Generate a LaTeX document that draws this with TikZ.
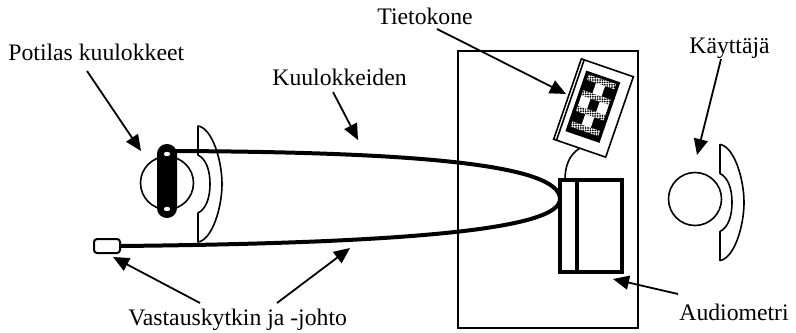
\documentclass[tikz,border=0pt]{standalone}
\usepackage{fontspec}
\setmainfont{Liberation Serif}
\usetikzlibrary{arrows.meta,patterns.meta}

\begin{document}
\begin{tikzpicture}[x=0.5pt,y=-0.5pt,
  thin line/.style={line width=0.8pt},
  frame line/.style={line width=1pt},
  box line/.style={line width=1.6pt},
  cord/.style={line width=2pt,line cap=round},
  pointer/.style={line width=0.9pt,-{Triangle[length=8pt,width=7pt]}},
  lbl/.style={inner sep=0pt,anchor=base west,font=\fontsize{11.85}{14}\selectfont},
  pics/earpiece/.style={code={
    \draw[thin line,line join=round]
      (0,-58) .. controls (14,-56) and (24,-24) .. (24,0)
      .. controls (24,24) and (14,56) .. (0,58)
      -- (0,29) .. controls (8,25) and (12,14) .. (12,0)
      .. controls (12,-14) and (8,-25) .. (0,-29) -- cycle;
  }}
]
\useasboundingbox (0,0) rectangle (796,332);

% room outline
\draw[frame line] (458,51) rectangle (638,328);

% audiometer
\draw[box line] (560,180) rectangle (622,272);
\draw[box line] (577,180) -- (577,272);
\coordinate (audPort) at (565,180);

% computer (tilted)
\begin{scope}[shift={(593.5,108)},rotate=-19]
  \draw[thin line,fill=white] (-27.5,-42.5) rectangle (27.5,42.5);
  \draw[thin line] (-24.5,-42.5) -- (-24.5,42.5);
  \fill (-19,-33) rectangle (17,31);
  % screen: dotted bands and checker rows
  \foreach \ya/\yb in {-30/-24.5,-13.5/-8,3/8.5,19.5/25}{
    \fill[white] (-15.5,\ya) rectangle (13.5,\yb);
    \fill[pattern={Dots[distance=1.2pt,radius=0.5pt]}] (-15.5,\ya) rectangle (13.5,\yb);
  }
  \fill[white] (-5.8,-24.5) rectangle (3.8,-13.5);
  \fill[white] (-15.5,-8) rectangle (-5.8,3);
  \fill[white] (3.8,-8) rectangle (13.5,3);
  \fill[white] (-5.8,8.5) rectangle (3.8,19.5);
  \coordinate (pcPort) at (0,42.5);
\end{scope}
\draw[thin line] (pcPort) .. controls (569,155) and (565,166) .. (audPort);

% patient headphones
\draw[thin line] (167,183) circle [radius=13.25pt];
\fill[rounded corners=4.9pt] (157,144) rectangle (177,218);
\fill[white] (167,154) ellipse [x radius=1.6pt, y radius=1.1pt];
\fill[white] (167,209) ellipse [x radius=1.6pt, y radius=1.1pt];
\pic at (198,184) {earpiece};

% operator
\draw[thin line] (695,199) circle [radius=13.25pt];
\pic at (720,202.5) {earpiece};

% response switch
\node[draw,frame line,rounded corners=1.5pt,minimum width=13pt,minimum height=7pt,inner sep=0pt] (switch) at (107,246) {};

% headphone cord and response cord (one loop)
\coordinate (hpTop) at (172,151);
\coordinate (loopTip) at (560,199);
\draw[cord] (hpTop) .. controls (420,152) and (560,165) .. (loopTip)
  .. controls (560,228) and (420,243) .. (switch.east);

% labels
\node[lbl] (potilas) at (8,60) {Potilas kuulokkeet};
\node[lbl] (kuul) at (272,85) {Kuulokkeiden};
\node[lbl] (tieto) at (377,25) {Tietokone};
\node[lbl] (kayt) at (689,53) {Käyttäjä};
\node[lbl] (audio) at (679,320) {Audiometri};
\node[lbl] (vast) at (128,325) {Vastauskytkin ja -johto};

% pointers
\coordinate (potA) at (87,71);   \coordinate (potB) at (141,151);
\coordinate (kuuA) at (333,92);  \coordinate (kuuB) at (358,140);
\coordinate (tieA) at (437,29);  \coordinate (tieB) at (566,94);
\coordinate (kayA) at (721,59);  \coordinate (kayB) at (697,155);
\coordinate (audA) at (678,294); \coordinate (audB) at (613,279);
\coordinate (vaA) at (200,303);  \coordinate (vaB) at (113,257);
\coordinate (vbA) at (277,303);  \coordinate (vbB) at (350,248);
\draw[pointer] (potA) -- (potB);
\draw[pointer] (kuuA) -- (kuuB);
\draw[pointer] (tieA) -- (tieB);
\draw[pointer] (kayA) -- (kayB);
\draw[pointer] (audA) -- (audB);
\draw[pointer] (vaA) -- (vaB);
\draw[pointer] (vbA) -- (vbB);
\end{tikzpicture}
\end{document}
